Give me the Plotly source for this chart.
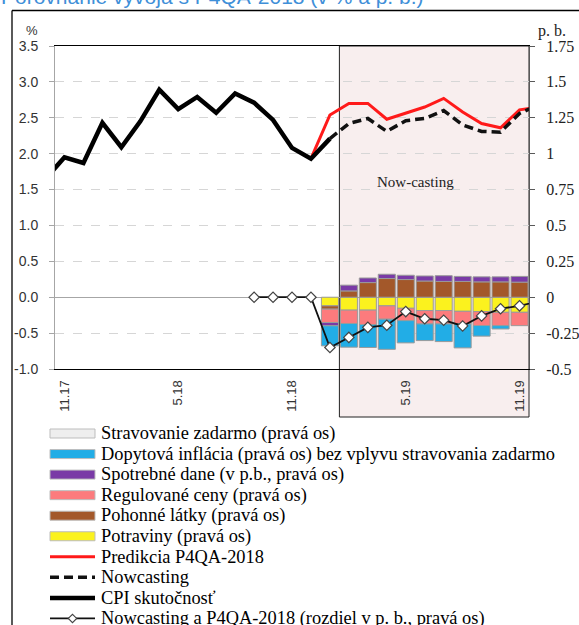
import plotly.graph_objects as go

# ---------------- data ----------------
cpi_months = ['10.17', '11.17', '12.17', '1.18', '2.18', '3.18', '4.18', '5.18', '6.18',
              '7.18', '8.18', '9.18', '10.18', '11.18', '12.18', '1.19']
cpi_values = [1.65, 1.95, 1.87, 2.43, 2.09, 2.45, 2.89, 2.62, 2.79, 2.57, 2.84, 2.71,
              2.47, 2.08, 1.93, 2.21]

pred_months = ['12.18', '1.19', '2.19', '3.19', '4.19', '5.19', '6.19', '7.19', '8.19',
               '9.19', '10.19', '11.19', '12.19']
pred_values = [1.93, 2.54, 2.70, 2.70, 2.48, 2.56, 2.65, 2.77, 2.58, 2.42, 2.36, 2.61, 2.65]

now_months = ['1.19', '2.19', '3.19', '4.19', '5.19', '6.19', '7.19', '8.19', '9.19',
              '10.19', '11.19', '12.19']
now_values = [2.21, 2.42, 2.49, 2.31, 2.46, 2.49, 2.60, 2.40, 2.31, 2.30, 2.56, 2.68]

diff_months = ['9.18', '10.18', '11.18', '12.18', '1.19', '2.19', '3.19', '4.19', '5.19',
               '6.19', '7.19', '8.19', '9.19', '10.19', '11.19', '12.19']
diff_values = [0, 0, 0, 0, -0.35, -0.28, -0.21, -0.195, -0.10, -0.15, -0.16, -0.20,
               -0.13, -0.08, -0.06, -0.03]

bar_months = ['1.19', '2.19', '3.19', '4.19', '5.19', '6.19', '7.19', '8.19', '9.19',
              '10.19', '11.19']
potraviny = [-0.06, -0.09, -0.09, -0.06, -0.077, -0.093, -0.093, -0.098, -0.10, -0.105, -0.105]
pohonne = [-0.023, 0.044, 0.102, 0.13, 0.123, 0.113, 0.11, 0.11, 0.107, 0.107, 0.105]
regulovane = [-0.093, -0.093, -0.10, -0.093, -0.086, -0.093, -0.093, -0.088, -0.097, -0.093, -0.093]
spotrebne = [-0.023, 0.04, 0.032, 0.03, 0.03, 0.035, 0.04, 0.035, 0.035, 0.035, 0.04]
dopytova = [-0.14, -0.165, -0.16, -0.21, -0.155, -0.116, -0.123, -0.167, -0.074, -0.023, None]
stravovanie = [None] * 11

all_months = ['10.17', '11.17', '12.17', '1.18', '2.18', '3.18', '4.18', '5.18', '6.18',
              '7.18', '8.18', '9.18', '10.18', '11.18', '12.18', '1.19', '2.19', '3.19',
              '4.19', '5.19', '6.19', '7.19', '8.19', '9.19', '10.19', '11.19', '12.19']
x_tick_labels = ['11.17', '5.18', '11.18', '5.19', '11.19']
y_tick_vals = [3.5, 3.0, 2.5, 2.0, 1.5, 1.0, 0.5, 0.0, -0.5, -1.0]
y_tick_text = ['3.5', '3.0', '2.5', '2.0', '1.5', '1.0', '0.5', '0.0', '-0.5', '-1.0']
y2_tick_vals = [1.75, 1.5, 1.25, 1.0, 0.75, 0.5, 0.25, 0.0, -0.25, -0.5]
y2_tick_text = ['1.75', '1.5', '1.25', '1', '0.75', '0.5', '0.25', '0', '-0.25', '-0.5']
first_month, last_month = '11.17', '11.19'
nowcast_start = '2.19'
nowcast_label_month = '5.19'

# ---------------- styles ----------------
W, H = 579, 625
ML, MR, MT, MB = 55, 50, 46, 256
PW, PH = W - ML - MR, H - MT - MB
SANS = 'Liberation Sans'
SERIF = 'Liberation Serif'


def px_x(p):
    return (p - ML) / PW


def px_y(p):
    return (H - MB - p) / PH


bar_specs = [
    ('Potraviny (pravá os)', potraviny, '#fbf21e'),
    ('Pohonné látky (pravá os)', pohonne, '#a3582a'),
    ('Regulované ceny (pravá os)', regulovane, '#fc7b7d'),
    ('Spotrebné dane (v p.b., pravá os)', spotrebne, '#7a3aa6'),
    ('Dopytová inflácia (pravá os) bez vplyvu stravovania zadarmo', dopytova, '#22ade6'),
    ('Stravovanie zadarmo (pravá os)', stravovanie, '#eeeeee'),
]
line_specs = {
    'pred': ('Predikcia P4QA-2018', '#ff1a1a', 3, 'solid'),
    'now': ('Nowcasting', '#111111', 3.5, '9px,5px'),
    'cpi': ('CPI skutočnosť', '#000000', 4.5, 'solid'),
    'diff': ('Nowcasting a P4QA-2018 (rozdiel v p. b., pravá os)', '#111111', 1.8, 'solid'),
}

fig = go.Figure()

for name, vals, col in bar_specs:
    fig.add_trace(go.Bar(
        x=bar_months, y=vals, name=name, yaxis='y2', width=0.9,
        marker=dict(color=col, line=dict(color='#9a9a9a', width=1)),
        hoverinfo='skip'))

for key, xs, ys in [('pred', pred_months, pred_values), ('now', now_months, now_values),
                    ('cpi', cpi_months, cpi_values)]:
    name, col, w, dash = line_specs[key]
    fig.add_trace(go.Scatter(x=xs, y=ys, mode='lines', name=name,
                             line=dict(color=col, width=w, dash=dash)))

name, col, w, dash = line_specs['diff']
fig.add_trace(go.Scatter(
    x=diff_months, y=diff_values, mode='lines+markers', yaxis='y2', name=name,
    line=dict(color=col, width=w),
    marker=dict(symbol='diamond', size=8, color='white', line=dict(color='#444444', width=1.2))))

# ---------------- decorations ----------------
x_lo = all_months.index(first_month) - 0.5
x_hi = all_months.index(last_month) + 0.5
start_idx = all_months.index(nowcast_start) - 0.5
shade_x0 = (start_idx - x_lo) / (x_hi - x_lo)

shapes = [
    dict(type='rect', xref='paper', yref='paper', x0=shade_x0, x1=1, y0=px_y(417), y1=1,
         fillcolor='#f8eeee', line=dict(color='#222222', width=1), layer='below'),
    # outer frame
    dict(type='line', xref='paper', yref='paper', x0=px_x(12), x1=px_x(W + 5),
         y0=px_y(10.5), y1=px_y(10.5), line=dict(color='#000000', width=1.3)),
    dict(type='line', xref='paper', yref='paper', x0=px_x(12), x1=px_x(12),
         y0=px_y(10.5), y1=px_y(H + 5), line=dict(color='#000000', width=1.3)),
]

annotations = [
    dict(text='Porovnanie vývoja s P4QA-2018 (v % a p. b.)', xref='paper', yref='paper',
         x=px_x(-1), y=px_y(10), xanchor='left', yanchor='bottom', showarrow=False,
         font=dict(family=SANS, size=21, color='#3f8fd8')),
    dict(text='%', xref='paper', yref='paper', x=px_x(32), y=px_y(31), showarrow=False,
         xanchor='center', yanchor='middle', font=dict(family=SANS, size=13, color='#333333')),
    dict(text='p. b.', xref='paper', yref='paper', x=px_x(552), y=px_y(31), showarrow=False,
         xanchor='center', yanchor='middle', font=dict(family=SERIF, size=16, color='#222222')),
    dict(text='Now-casting', xref='x', yref='y', x=all_months.index(nowcast_label_month) + 0.5,
         y=1.6, showarrow=False, font=dict(family=SERIF, size=15, color='#222222')),
]

# ---------------- legend (drawn below the chart, Excel style) ----------------
LEG_X0, LEG_X1, LEG_TEXT_X = 50, 95, 99
LEG_ROW0, LEG_STEP = 433.5, 20.55
legend_rows = [('box', s[0], s[2]) for s in reversed(bar_specs)] + \
              [('line', line_specs[k]) for k in ('pred', 'now', 'cpi')] + \
              [('marker', line_specs['diff'])]

for i, row in enumerate(legend_rows):
    cy = LEG_ROW0 + i * LEG_STEP
    if row[0] == 'box':
        _, name, col = row
        shapes.append(dict(type='rect', xref='paper', yref='paper',
                           x0=px_x(LEG_X0), x1=px_x(LEG_X1),
                           y0=px_y(cy + 4.5), y1=px_y(cy - 4.5),
                           fillcolor=col, line=dict(color='#bdbdbd', width=1)))
    else:
        name, col, w, dash = row[1]
        shapes.append(dict(type='line', xref='paper', yref='paper',
                           x0=px_x(LEG_X0), x1=px_x(LEG_X1), y0=px_y(cy), y1=px_y(cy),
                           line=dict(color=col, width=w, dash=dash)))
        if row[0] == 'marker':
            mx = (LEG_X0 + LEG_X1) / 2
            d = 4.2
            path = 'M{},{} L{},{} L{},{} L{},{} Z'.format(
                px_x(mx - d), px_y(cy), px_x(mx), px_y(cy - d),
                px_x(mx + d), px_y(cy), px_x(mx), px_y(cy + d))
            shapes.append(dict(type='path', xref='paper', yref='paper', path=path,
                               fillcolor='white', line=dict(color='#444444', width=1.1)))
    annotations.append(dict(text=name, xref='paper', yref='paper', x=px_x(LEG_TEXT_X),
                            y=px_y(cy), xanchor='left', yanchor='middle', showarrow=False,
                            font=dict(family=SERIF, size=18.4, color='#000000')))

fig.update_layout(
    width=W, height=H,
    margin=dict(l=ML, r=MR, t=MT, b=MB, autoexpand=False),
    paper_bgcolor='white', plot_bgcolor='white',
    barmode='relative', bargap=0.1,
    showlegend=False,
    xaxis=dict(type='category', categoryorder='array', categoryarray=all_months,
               range=[x_lo, x_hi], tickvals=x_tick_labels, ticktext=x_tick_labels,
               tickangle=-90, showgrid=False, zeroline=False,
               showline=True, linecolor='#000000', linewidth=1, mirror=True,
               ticks='', ticklabelstandoff=5,
               tickfont=dict(family=SANS, size=13, color='#333333')),
    yaxis=dict(range=[-1.0, 3.5], tickvals=y_tick_vals, ticktext=y_tick_text,
               showgrid=True, gridcolor='#d6d6d6', griddash='dash', gridwidth=1,
               zeroline=True, zerolinecolor='#a6a6a6', zerolinewidth=1,
               showline=True, linecolor='#a6a6a6', linewidth=1,
               ticks='outside', ticklen=5, tickcolor='#a6a6a6', ticklabelstandoff=8,
               tickfont=dict(family=SANS, size=14, color='#333333')),
    yaxis2=dict(range=[-0.5, 1.75], tickvals=y2_tick_vals, ticktext=y2_tick_text,
                overlaying='y', side='right', showgrid=False, zeroline=False,
                showline=True, linecolor='#595959', linewidth=1,
                ticks='outside', ticklen=5, tickcolor='#595959', ticklabelstandoff=8,
                tickfont=dict(family=SERIF, size=16, color='#222222')),
    shapes=shapes,
    annotations=annotations,
)

fig.write_html('out.html', config={'displayModeBar': False},
               post_script="document.body.style.margin='0';document.body.style.overflow='hidden';")
